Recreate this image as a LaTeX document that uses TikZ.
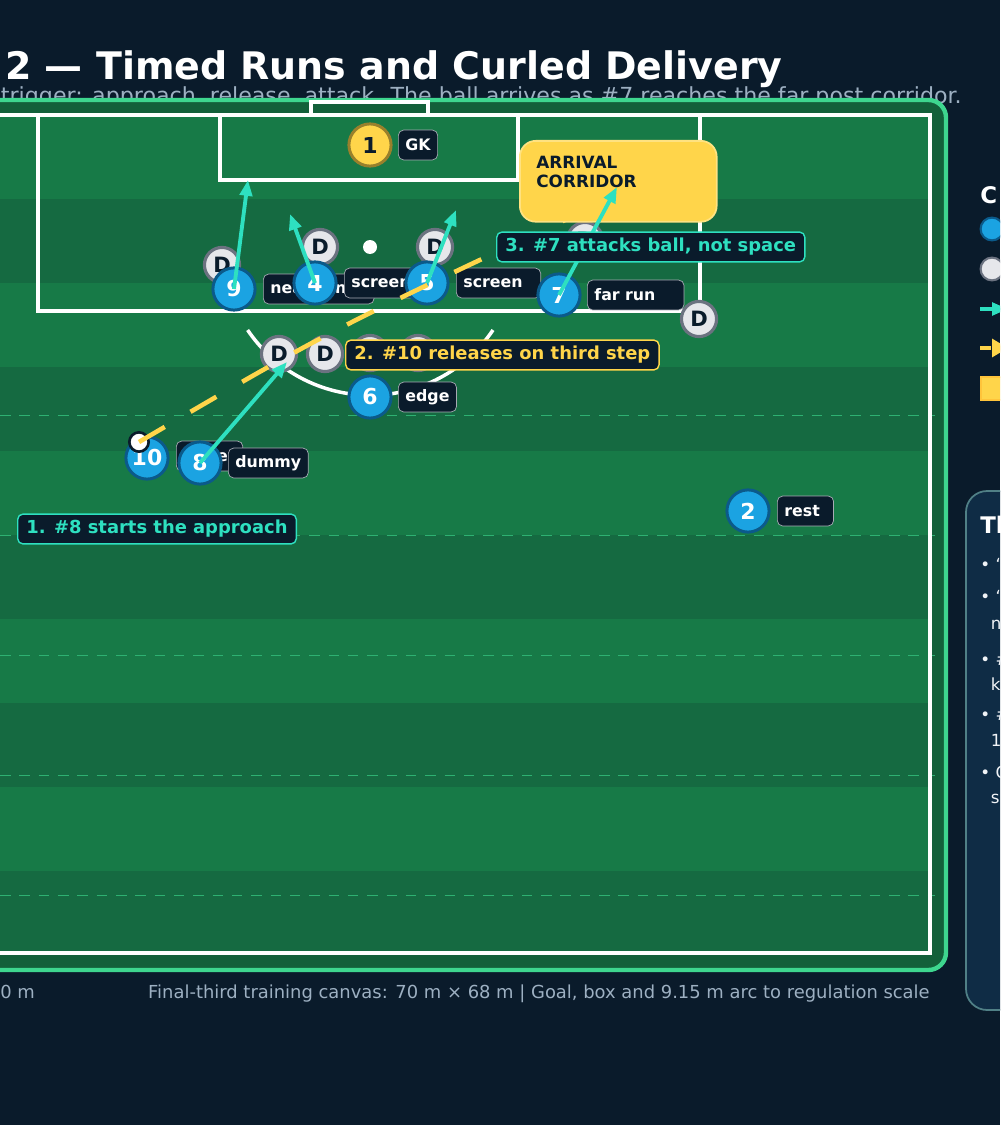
\documentclass[tikz,border=0pt]{standalone}
\usepackage{fontspec}
\setmainfont{DejaVu Sans}
\usepackage{tikz}
\usetikzlibrary{arrows.meta}
\definecolor{navy}{HTML}{0A1B2B}
\definecolor{grassA}{HTML}{177A47}
\definecolor{grassB}{HTML}{156A41}
\definecolor{frame}{HTML}{13603A}
\definecolor{mint}{HTML}{3ED68F}
\definecolor{teal}{HTML}{2EE0C0}
\definecolor{gold}{HTML}{FFD54A}
\definecolor{blueP}{HTML}{1BA3E2}
\definecolor{blueE}{HTML}{0B5A8A}
\definecolor{greyD}{HTML}{E6E7EB}
\definecolor{greyE}{HTML}{6B7280}
\definecolor{mute}{HTML}{9DB0C2}
\definecolor{panel}{HTML}{0F2C45}
\tikzset{att/.style={circle,fill=blueP,draw=blueE,line width=1.7pt,minimum size=24pt,inner sep=0pt,text=white,font=\bfseries\fontsize{12.5}{12}\selectfont}}
\tikzset{def/.style={circle,fill=greyD,draw=greyE,line width=1.8pt,minimum size=20pt,inner sep=0pt,text=navy,font=\bfseries\fontsize{12}{12}\selectfont}}
\tikzset{tag/.style={right,fill=navy,draw=greyE!60,rounded corners=3pt,text=white,font=\bfseries\fontsize{9}{9}\selectfont,minimum height=17pt,inner xsep=4pt}}
\tikzset{run/.style={teal,line width=2.2pt,-{Triangle[length=9pt,width=7pt]}}}
\tikzset{call/.style={right,fill=navy,rounded corners=3pt,line width=0.8pt,font=\bfseries\fontsize{10.2}{10}\selectfont,minimum height=17pt,inner xsep=5pt}}
\begin{document}
\begin{tikzpicture}[x=0.02cm,y=-0.02cm]
	\useasboundingbox (0,0) rectangle (1000,1125);
	\clip (0,0) rectangle (1000,1125);
	\fill[navy] (0,0) rectangle (1000,1125);
	% title
	\node[anchor=base west,text=white,font=\bfseries\fontsize{21.6}{21}\selectfont,inner sep=0pt] (title) at (5,80) {2 — Timed Runs and Curled Delivery};
	\node[anchor=base east,text=mute,font=\fontsize{12.6}{12}\selectfont,inner sep=0pt] (sub) at (962,104) {t trigger: approach, release, attack. The ball arrives as \#7 reaches the far post corridor.};
	% pitch
	\draw[mint,fill=frame,line width=2.5pt,rounded corners=10pt] (-30,100) rectangle (946,970);
	\foreach \y in {115,283,451,619,787} \fill[grassA] (-10,\y) rectangle (930,\y+84);
	\foreach \y in {199,367,535,703,871} \fill[grassB] (-10,\y) rectangle (930,\y+84);
	\foreach \y in {415,535,655,775,895} \draw[mint!60!grassA,dashed,dash pattern=on 6pt off 5pt] (0,\y) -- (935,\y);
	\draw[white,line width=2.6pt] (-10,115) -- (930,115) -- (930,953) -- (-10,953);
	\draw[white,line width=2.6pt] (38,115) -- (38,311) -- (700,311) -- (700,115);
	\draw[white,line width=2.6pt] (220,115) -- (220,180) -- (518,180) -- (518,115);
	\draw[white,line width=2.6pt] (311,115) -- (311,102) -- (428,102) -- (428,115);
	\fill[white] (370,247) circle (7);
	\draw[white,line width=2pt] (493,330) arc[start angle=34,end angle=146,radius=148];
	% defenders
	\node[def] (d1) at (222,265) {D};
	\node[def] (d2) at (320,247) {D};
	\node[def] (d3) at (435,247) {D};
	\node[def] (d4) at (279,354) {D};
	\node[def] (d5) at (325,354) {D};
	\node[def] (d6) at (370,353) {D};
	\node[def] (d7) at (418,353) {D};
	\node[def] (d8) at (585,240) {D};
	\node[def] (d9) at (699,319) {D};
	% attackers
	\node[circle,fill=gold,draw=gold!60!black,line width=1.7pt,minimum size=24pt,inner sep=0pt,text=navy,font=\bfseries\fontsize{12.5}{12}\selectfont] (p1) at (370,145) {1};
	\node[tag] (t1) at (398,145) {GK};
	\node[att] (p9) at (234,289) {9};
	\node[tag,text width=55pt,align=left] (t9) at (263,289) {near run};
	\node[att] (p4) at (315,283) {4};
	\node[tag] (t4) at (344,283) {screen};
	\node[att] (p5) at (427,283) {5};
	\node[tag,text width=40pt,align=left] (t5) at (456,283) {screen};
	\node[att] (p7) at (559,295) {7};
	\node[tag,text width=47pt,align=left] (t7) at (587,295) {far run};
	\node[att] (p6) at (370,397) {6};
	\node[tag] (t6) at (398,397) {edge};
	\node[att] (p10) at (147,458) {10};
	\node[tag] (t10) at (176,456) {curler};
	\node[att] (p8) at (200,463) {8};
	\node[tag] (t8) at (228,463) {dummy};
	\node[att] (p2) at (748,511) {2};
	\node[tag,text width=24pt,align=left] (t2) at (777,511) {rest};
	% ball and delivery
	\node[circle,fill=white,draw=navy,line width=1.5pt,minimum size=11pt,inner sep=0pt] (ball) at (139,442) {};
	\coordinate (drop) at (612,198);
	\draw[gold,line width=2.6pt,dash pattern=on 17pt off 17pt] (ball.center) .. controls (330,330) .. (drop);
	\node[fill=gold,draw=gold!70!white,line width=1pt,rounded corners=9pt,minimum width=112pt,minimum height=46pt,anchor=north west] (zone) at (519,140) {};
	\node[anchor=north west,align=left,text=navy,font=\bfseries\fontsize{9.6}{11}\selectfont,inner sep=0pt] at (536,156) {ARRIVAL\\CORRIDOR};
	% runs
	\coordinate (r9) at (248,180);
	\coordinate (r4) at (290,214);
	\coordinate (r5) at (456,210);
	\coordinate (r8) at (287,362);
	\coordinate (r7) at (617,187);
	\draw[run] (p9.center) -- (r9);
	\draw[run] (p4.center) -- (r4);
	\draw[run] (p5.center) -- (r5);
	\draw[run] (p8.center) -- (r8);
	\draw[run] (p7.center) -- (r7);
	% callouts
	\node[call,draw=teal,text=teal] (c1) at (17,529) {1. \#8 starts the approach};
	\node[call,draw=gold,text=gold] (c2) at (345,355) {2. \#10 releases on third step};
	\node[call,draw=teal,text=teal] (c3) at (496,247) {3. \#7 attacks ball, not space};
	% legend
	\node[anchor=base west,text=white,font=\bfseries\fontsize{13}{13}\selectfont,inner sep=0pt] (key) at (980,204) {C};
	\node[circle,fill=blueP,draw=blueE,line width=1.2pt,minimum size=13pt,inner sep=0pt] (k1) at (992,229) {};
	\node[circle,fill=greyD,draw=greyE,line width=1.2pt,minimum size=13pt,inner sep=0pt] (k2) at (992,269) {};
	\coordinate (k3a) at (980,309); \coordinate (k3b) at (1008,309);
	\draw[run] (k3a) -- (k3b);
	\coordinate (k4a) at (980,348); \coordinate (k4b) at (1008,348);
	\draw[gold,line width=2.2pt,dash pattern=on 6pt off 4pt,-{Triangle[length=9pt,width=10pt]}] (k4a) -- (k4b);
	\draw[gold!80!orange,fill=gold,line width=1pt] (981,377) rectangle (1010,400);
	% notes
	\draw[panel!60!cyan!40!gray,fill=panel,line width=1pt,rounded corners=12pt] (966,491) rectangle (1040,1010);
	\node[anchor=base west,text=white,font=\bfseries\fontsize{13}{13}\selectfont,inner sep=0pt] (notes) at (980,533) {Th};
	\foreach \y/\t in {570/• ‘,602/• ‘,629/\ \ n,665/• \#,690/\ \ k,720/• \#,746/\ \ 1,778/• C,803/\ \ s}
		\node[anchor=base west,text=white!85!mute,font=\fontsize{9.5}{10}\selectfont,inner sep=0pt] at (980,\y) {\t};
	% footer
	\node[anchor=base west,text=mute,font=\fontsize{10.2}{10}\selectfont,inner sep=0pt] (f1) at (0,998) {0 m};
	\node[anchor=base east,text=mute,font=\fontsize{10.2}{10}\selectfont,inner sep=0pt] (f2) at (930,998) {Final-third training canvas: 70 m × 68 m | Goal, box and 9.15 m arc to regulation scale};
\end{tikzpicture}
\end{document}
